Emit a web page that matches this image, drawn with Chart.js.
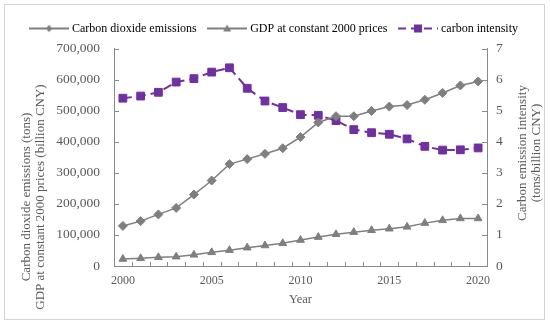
<!DOCTYPE html>
<html>
<head>
<meta charset="utf-8">
<script src="https://cdn.jsdelivr.net/npm/chart.js@4.4.0/dist/chart.umd.min.js"></script>
<style>
  html, body { margin: 0; padding: 0; background: #fff; }
  #wrap { position: relative; width: 550px; height: 327px; }
</style>
</head>
<body>
<div id="wrap"><canvas id="chart" width="550" height="327"></canvas></div>
<script>
// data
const years = ['2000', '2001', '2002', '2003', '2004', '2005', '2006', '2007', '2008', '2009', '2010',
  '2011', '2012', '2013', '2014', '2015', '2016', '2017', '2018', '2019', '2020'];
const co2Emissions = [129000, 144500, 166000, 187000, 230000, 275000, 328000, 344000, 361000, 379000, 415000,
  462000, 482000, 482000, 499000, 513000, 518000, 535000, 557000, 581000, 594000];
const gdpConstant = [22500, 24700, 28000, 30000, 36000, 44000, 51000, 59000, 66000, 73000, 83500,
  93000, 102000, 109000, 115000, 120000, 126000, 138000, 147000, 153000, 153000];
const carbonIntensity = [5.40, 5.47, 5.59, 5.92, 6.03, 6.24, 6.38, 5.72, 5.31, 5.10, 4.87,
  4.85, 4.68, 4.39, 4.29, 4.24, 4.09, 3.85, 3.73, 3.74, 3.80];
const labeledYears = ['2000', '2005', '2010', '2015', '2020'];
const leftTitle = ['Carbon dioxide emissions (tons)', 'GDP at constant 2000 prices (billion CNY)'];
const rightTitle = ['Carbon emission intensity', '(tons/billion CNY)'];

const serif = '"Liberation Serif", "Times New Roman", serif';
const textColor = '#595959';
const axisColor = '#8a8a8a';
const grey = '#7f7f7f';
const purple = '#7030a0';

// little line+marker pictures for the legend
function legendMark(color, shape, dash) {
  const c = document.createElement('canvas');
  c.width = 40; c.height = 12;
  const g = c.getContext('2d');
  g.strokeStyle = color; g.fillStyle = color; g.lineWidth = 2;
  g.setLineDash(dash || []);
  g.beginPath(); g.moveTo(0, 6); g.lineTo(40, 6); g.stroke();
  g.setLineDash([]);
  g.beginPath();
  if (shape === 'diamond') {
    g.moveTo(20, 2.5); g.lineTo(23.5, 6); g.lineTo(20, 9.5); g.lineTo(16.5, 6);
  } else if (shape === 'triangle') {
    g.moveTo(20, 2); g.lineTo(24, 9); g.lineTo(16, 9);
  } else {
    g.rect(16, 2, 8, 8);
  }
  g.closePath(); g.fill();
  return c;
}
const legendMarks = [
  legendMark(grey, 'diamond'),
  legendMark(grey, 'triangle'),
  legendMark(purple, 'square', [8, 5])
];

// empty box between legend and plot, just to push the plot down a bit
const legendGap = {
  id: 'legendGap',
  beforeInit(chart) {
    Chart.layouts.addBox(chart, {
      position: 'top',
      weight: 500,
      fullSize: true,
      options: {},
      isHorizontal: () => true,
      update(maxWidth) { this.width = maxWidth; this.height = 4; },
      draw() {}
    });
  }
};

const axisDecor = {
  id: 'axisDecor',
  beforeDraw(chart) {
    const ctx = chart.ctx;
    ctx.save();
    ctx.strokeStyle = '#d4d4d4';
    ctx.lineWidth = 1;
    ctx.strokeRect(4.5, 4.5, 540, 315);
    ctx.restore();
  },
  afterDraw(chart) {
    const { ctx, chartArea, scales } = chart;
    ctx.save();
    ctx.strokeStyle = axisColor;
    ctx.lineWidth = 1;
    const seg = (x1, y1, x2, y2) => { ctx.beginPath(); ctx.moveTo(x1, y1); ctx.lineTo(x2, y2); ctx.stroke(); };

    // inward ticks on the year axis, at the category boundaries
    const xs = scales.x;
    const step = xs.getPixelForValue(1) - xs.getPixelForValue(0);
    for (let i = 0; i <= years.length; i++) {
      const px = Math.round(xs.getPixelForValue(i) - step / 2) + 0.5;
      seg(px, chartArea.bottom, px, chartArea.bottom - 4);
    }
    scales.y.ticks.forEach(t => {
      const py = Math.round(scales.y.getPixelForValue(t.value)) + 0.5;
      seg(chartArea.left, py, chartArea.left + 5, py);
    });
    scales.y1.ticks.forEach(t => {
      const py = Math.round(scales.y1.getPixelForValue(t.value)) + 0.5;
      seg(chartArea.right, py, chartArea.right - 5, py);
    });

    // axis titles, both read bottom to top
    ctx.fillStyle = textColor;
    ctx.font = '13px ' + serif;
    ctx.textAlign = 'center';
    ctx.textBaseline = 'middle';
    const drawTitle = (lines, x, y) => {
      ctx.save();
      ctx.translate(x, y);
      ctx.rotate(-Math.PI / 2);
      lines.forEach((s, i) => ctx.fillText(s, 0, i * 13.5));
      ctx.restore();
    };
    drawTitle(leftTitle, 27, 197);
    drawTitle(rightTitle, 523, 153);
    ctx.restore();
  }
};

new Chart(document.getElementById('chart'), {
  type: 'line',
  data: {
    labels: years,
    datasets: [
      {
        label: 'Carbon dioxide emissions',
        data: co2Emissions,
        yAxisID: 'y',
        borderColor: grey,
        backgroundColor: grey,
        borderWidth: 1.5,
        pointStyle: 'rectRot',
        pointRadius: 4.5,
        pointBorderWidth: 1
      },
      {
        label: 'GDP at constant 2000 prices',
        data: gdpConstant,
        yAxisID: 'y',
        borderColor: grey,
        backgroundColor: grey,
        borderWidth: 1.5,
        pointStyle: 'triangle',
        pointRadius: 4.5,
        pointBorderWidth: 1
      },
      {
        label: 'carbon intensity',
        data: carbonIntensity,
        yAxisID: 'y1',
        borderColor: purple,
        backgroundColor: purple,
        borderWidth: 2,
        borderDash: [9, 5],
        pointStyle: 'rect',
        pointRadius: 5.5,
        pointBorderWidth: 1
      }
    ]
  },
  options: {
    responsive: false,
    animation: false,
    layout: { padding: { top: 9, left: 0, right: 0, bottom: 0 } },
    plugins: {
      tooltip: { enabled: false },
      legend: {
        position: 'top',
        labels: {
          usePointStyle: true,
          pointStyleWidth: 34,
          boxHeight: 12,
          padding: 13.5,
          color: textColor,
          font: { family: serif, size: 12 },
          generateLabels: chart => chart.data.datasets.map((ds, i) => ({
            text: ds.label,
            pointStyle: legendMarks[i],
            fillStyle: ds.borderColor,
            strokeStyle: ds.borderColor,
            lineWidth: 0,
            hidden: false,
            datasetIndex: i
          }))
        }
      }
    },
    scales: {
      x: {
        offset: true,
        grid: { display: false, drawTicks: false },
        border: { display: true, color: axisColor, width: 1 },
        ticks: {
          autoSkip: false,
          maxRotation: 0,
          padding: 8,
          color: textColor,
          font: { family: serif, size: 12 },
          callback: function (v) {
            const y = this.getLabelForValue(v);
            return labeledYears.includes(y) ? y : '';
          }
        },
        title: {
          display: true,
          text: 'Year',
          color: textColor,
          font: { family: serif, size: 12.5 },
          padding: { top: 2, bottom: 20 }
        },
        afterFit: s => { s.height = 61; }
      },
      y: {
        position: 'left',
        min: 0,
        max: 700000,
        grid: { display: false, drawTicks: false },
        border: { display: true, color: axisColor, width: 1 },
        ticks: {
          stepSize: 100000,
          padding: 14,
          color: textColor,
          font: { family: serif, size: 13.5 },
          callback: v => v.toLocaleString('en-US')
        },
        afterFit: s => { s.width = 114; }
      },
      y1: {
        position: 'right',
        min: 0,
        max: 7,
        grid: { display: false, drawTicks: false },
        border: { display: true, color: axisColor, width: 1 },
        ticks: {
          stepSize: 1,
          padding: 9,
          color: textColor,
          font: { family: serif, size: 13.5 }
        },
        afterFit: s => { s.width = 63; }
      }
    }
  },
  plugins: [legendGap, axisDecor]
});
</script>
</body>
</html>
